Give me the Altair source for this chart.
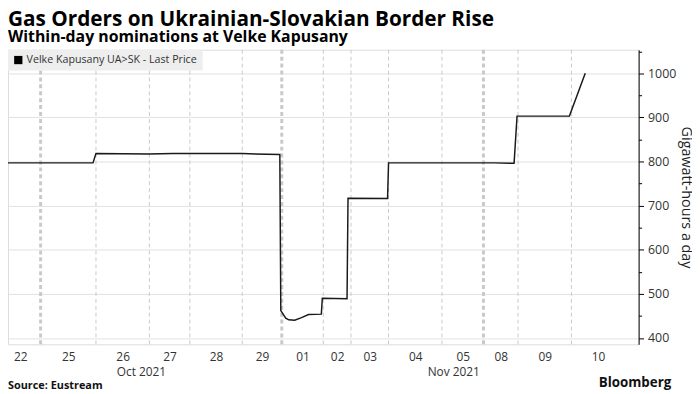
import datetime as dt
import altair as alt
import pandas as pd

# ---- text ----
title_text = "Gas Orders on Ukrainian-Slovakian Border Rise"
subtitle_text = "Within-day nominations at Velke Kapusany"
series_name = "Velke Kapusany UA>SK - Last Price"
y_title = "Gigawatt-hours a day"
source_text = "Source: Eustream"
brand_text = "Bloomberg"

# ---- series (x = observation index, y = GWh/day) ----
obs_index = [0, 47, 48.5, 75, 87.5, 122.5, 141.5, 142, 144.5, 146, 149, 152.5, 156,
             162.5, 163, 175.5, 176, 196, 196.5, 250, 260, 261.5, 288, 296]
gwh = [797, 797, 818, 817, 818, 818, 816, 462, 445, 441, 440, 446, 453,
       454, 490, 489, 717, 716, 797, 797, 796, 903, 903, 1000]

# ---- trading days and the observation index at which each ends ----
day_dates = ["2021-10-22", "2021-10-25", "2021-10-26", "2021-10-27", "2021-10-28",
             "2021-10-29", "2021-11-01", "2021-11-02", "2021-11-03", "2021-11-04",
             "2021-11-05", "2021-11-08", "2021-11-09", "2021-11-10"]
day_end = [20.5, 48.5, 75.5, 96, 122.5, 142.5, 163.5, 177.5, 196.5, 223.5,
           244.5, 262, 289, 316]

y_ticks = [400, 450, 500, 550, 600, 650, 700, 750, 800, 850, 900, 950, 1000, 1050]

# ---- derived tables ----
dates = [dt.date.fromisoformat(d) for d in day_dates]
day_start = [0] + day_end[:-1]
day_mid = [(a + b) / 2 for a, b in zip(day_start, day_end)]
day_lbl = [d.strftime("%d") for d in dates]

bounds = pd.DataFrame({
    "pos": day_end[:-1],
    "weekend": [(dates[i + 1] - dates[i]).days > 1 for i in range(len(dates) - 1)],
})

months = {}
for d, s, e in zip(dates, day_start, day_end):
    key = d.strftime("%b %Y")
    if key not in months:
        months[key] = [s, e]
    months[key][1] = e
month_lbl = list(months.keys())
month_mid = [(v[0] + v[1]) / 2 for v in months.values()]

series = pd.DataFrame({"idx": obs_index, "gwh": gwh, "series": series_name})

FONT = "Open Sans"
x_scale = alt.Scale(domain=[4, 323], nice=False, zero=False)
y_scale = alt.Scale(domain=[385.5, 1053.5], nice=False, zero=False)


def lookup_expr(labels, values):
    return "[" + ",".join("'%s'" % l for l in labels) + "][indexof([" + \
        ",".join(repr(float(v)) for v in values) + "], datum.value)]"


rules = alt.Chart(bounds).mark_rule(strokeDash=[4, 3], color="#c9c9c9").encode(
    x=alt.X("pos:Q", scale=x_scale,
            axis=alt.Axis(orient="bottom", values=month_mid,
                          labelExpr=lookup_expr(month_lbl, month_mid),
                          ticks=False, domain=False, grid=False, title=None,
                          labelPadding=23, labelFont=FONT, labelFontSize=12,
                          labelColor="#333333", labelOverlap=False, labelFlush=False)),
    strokeWidth=alt.condition("datum.weekend", alt.value(3), alt.value(1)),
)

line = alt.Chart(series).mark_line(clip=True, strokeWidth=1.5).encode(
    x=alt.X("idx:Q", scale=x_scale,
            axis=alt.Axis(orient="bottom", values=day_mid,
                          labelExpr=lookup_expr(day_lbl, day_mid),
                          ticks=False, domain=False, grid=False, title=None,
                          labelPadding=7, labelFont=FONT, labelFontSize=12,
                          labelColor="#333333", labelOverlap=False, labelFlush=False)),
    y=alt.Y("gwh:Q", scale=y_scale,
            axis=alt.Axis(orient="right", values=y_ticks, title=y_title,
                          labelExpr="datum.value % 100 === 0 ? '' + datum.value : ''",
                          titleAngle=90, titleFont=FONT, titleFontSize=14.5,
                          titleFontWeight="normal", titleColor="#222222",
                          titlePadding=3,
                          labelFont=FONT, labelFontSize=12.5, labelColor="#333333",
                          labelPadding=4,
                          tickSize={"condition": {"test": "datum.value % 100 === 0", "value": 5}, "value": 3},
                          tickColor="#000000", domainColor="#000000",
                          gridColor="#e2e2e2",
                          gridOpacity={"condition": {"test": "datum.value % 100 === 0", "value": 1}, "value": 0})),
    color=alt.Color("series:N", scale=alt.Scale(range=["#1a1a1a"]),
                    legend=alt.Legend(orient="top-left", title=None, offset=0,
                                      fillColor="#eeeeee", padding=5,
                                      symbolType="square", symbolSize=70,
                                      symbolFillColor="#000000", symbolStrokeWidth=0,
                                      labelFont=FONT, labelFontSize=10.8,
                                      labelColor="#333333", labelLimit=400,
                                      labelOffset=3)),
)

foot = pd.DataFrame({"t": [source_text]})
src = alt.Chart(foot).mark_text(align="left", baseline="alphabetic", font=FONT,
                                fontSize=11, fontWeight="bold", color="#111111").encode(
    text="t:N", x=alt.value(0), y=alt.value(343))
brand = alt.Chart(pd.DataFrame({"t": [brand_text]})).mark_text(
    align="right", baseline="alphabetic", font=FONT, fontSize=13.5,
    fontWeight="bold", color="#111111").encode(
    text="t:N", x=alt.value(671), y=alt.value(341))

chart = alt.layer(rules, line, src, brand).resolve_axis(x="independent").properties(
    width=638, height=298,
    autosize=alt.AutoSizeParams(type="none"),
    padding={"left": 0, "top": 40, "right": 54, "bottom": 48},
    title=alt.TitleParams(text=title_text, subtitle=subtitle_text, anchor="start",
                          frame="group", offset=3, font=FONT, fontSize=21,
                          fontWeight="bold", color="#000000",
                          subtitleFont=FONT, subtitleFontSize=16,
                          subtitleFontWeight="bold", subtitleColor="#000000",
                          subtitlePadding=0),
).configure_view(stroke=None).configure(background="white")

chart.save("out.html", embed_options={"renderer": "svg", "actions": False})
